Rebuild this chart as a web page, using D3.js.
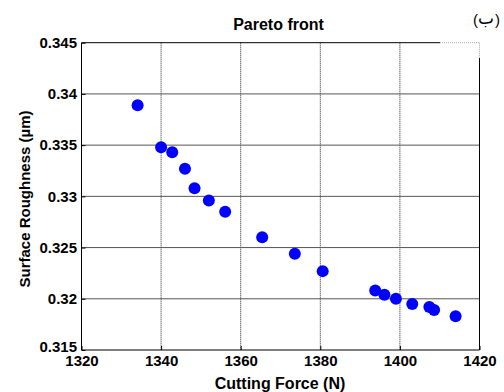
<!DOCTYPE html>
<html>
<head>
<meta charset="utf-8">
<script src="https://cdn.jsdelivr.net/npm/d3@7"></script>
<style>
  body { margin: 0; background: #fff; }
  text { font-family: "Liberation Sans", Arial, sans-serif; font-weight: bold; fill: #000; }
</style>
</head>
<body>
<script>
// Pareto front data
const cuttingForce = [1334.1, 1340.0, 1342.8, 1346.0, 1348.4, 1352.0, 1356.1, 1365.4, 1373.6, 1380.6,
                      1393.8, 1396.1, 1399.0, 1403.1, 1407.4, 1408.6, 1414.0];
const roughness = [0.3389, 0.3348, 0.3343, 0.3327, 0.3308, 0.3296, 0.3285, 0.3260, 0.3244, 0.3227,
                   0.3208, 0.3204, 0.3200, 0.3195, 0.3192, 0.3189, 0.3183];
const xTicks = [1320, 1340, 1360, 1380, 1400, 1420];
const yTicks = [0.315, 0.32, 0.325, 0.33, 0.335, 0.34, 0.345];

const width = 504, height = 392;
// plot box edges
const plotL = 81.5, plotR = 479.5, plotT = 42.7, plotB = 350;

const svg = d3.select('body').append('svg')
    .attr('width', width)
    .attr('height', height);

const x = d3.scaleLinear().domain([1320, 1420]).range([plotL, plotR]);
const y = d3.scaleLinear().domain([0.315, 0.345]).range([plotB, plotT]);

// grid lines
svg.append('g').selectAll('line')
    .data(xTicks.slice(1, -1))
    .enter().append('line')
    .attr('x1', d => x(d)).attr('x2', d => x(d))
    .attr('y1', plotT).attr('y2', plotB)
    .style('stroke', '#222')
    .style('stroke-dasharray', '1,1');

svg.append('g').selectAll('line')
    .data(yTicks.slice(1, -1))
    .enter().append('line')
    .attr('x1', plotL).attr('x2', plotR)
    .attr('y1', d => y(d)).attr('y2', d => y(d))
    .style('stroke', '#555');

// axes (ticks pointing inward like matlab)
const xAxis = svg.append('g')
    .attr('transform', `translate(0,${plotB})`)
    .call(d3.axisBottom(x).tickValues(xTicks).tickSize(-4).tickPadding(5.5).tickFormat(d3.format('d')));
xAxis.select('.domain').remove();
xAxis.selectAll('text').style('font-size', '15px');

const yAxis = svg.append('g')
    .attr('transform', `translate(${plotL},0)`)
    .call(d3.axisLeft(y).tickValues(yTicks).tickSize(-4).tickPadding(4.5).tickFormat(d => String(+d.toFixed(3))));
yAxis.select('.domain').remove();
yAxis.selectAll('text').style('font-size', '15px');
// bottom label sits a little higher, as in the picture
yAxis.selectAll('.tick text').filter(d => d === 0.315).attr('dy', '0.1em');

// box
const box = svg.append('g').style('stroke', '#000').style('fill', 'none');
box.append('line').attr('x1', plotL).attr('x2', plotL).attr('y1', plotT).attr('y2', plotB);
box.append('line').attr('x1', plotL).attr('x2', plotR).attr('y1', plotB).attr('y2', plotB);
box.append('line').attr('x1', plotL).attr('x2', 440).attr('y1', plotT).attr('y2', plotT);
box.append('line').attr('x1', plotR).attr('x2', plotR).attr('y1', 58).attr('y2', plotB);
// faded corner behind the label
const corner = svg.append('g').style('stroke', '#aaa').style('stroke-dasharray', '1,1');
corner.append('line').attr('x1', 440).attr('x2', plotR).attr('y1', plotT).attr('y2', plotT);
corner.append('line').attr('x1', plotR).attr('x2', plotR).attr('y1', plotT).attr('y2', 58);

// points
svg.append('g').selectAll('circle')
    .data(cuttingForce)
    .enter().append('circle')
    .attr('cx', d => x(d))
    .attr('cy', (d, i) => y(roughness[i]))
    .attr('r', 6)
    .style('fill', '#0000ff');

// labels
svg.append('text')
    .attr('x', (plotL + plotR) / 2 - 2).attr('y', 30)
    .attr('text-anchor', 'middle')
    .style('font-size', '16px')
    .text('Pareto front');

svg.append('text')
    .attr('x', 280).attr('y', 389)
    .attr('text-anchor', 'middle')
    .style('font-size', '16px')
    .text('Cutting Force (N)');

svg.append('text')
    .attr('transform', 'translate(30,199) rotate(-90)')
    .attr('text-anchor', 'middle')
    .style('font-size', '15px')
    .text('Surface Roughness (µm)');

// panel label: parentheses and letter drawn as separate pieces so bidi doesn't reorder them
const panel = svg.append('g');
panel.append('text').attr('x', 473).attr('y', 25).text('(')
    .style('font-size', '15px').style('font-weight', 'normal');
panel.append('text').attr('x', 478).attr('y', 24)
    .style('font-size', '17px').style('font-weight', 'normal')
    .style('font-family', '"Noto Sans", "DejaVu Sans", sans-serif').text('ب');
panel.append('text').attr('x', 495).attr('y', 25).text(')')
    .style('font-size', '15px').style('font-weight', 'normal');
</script>
</body>
</html>
